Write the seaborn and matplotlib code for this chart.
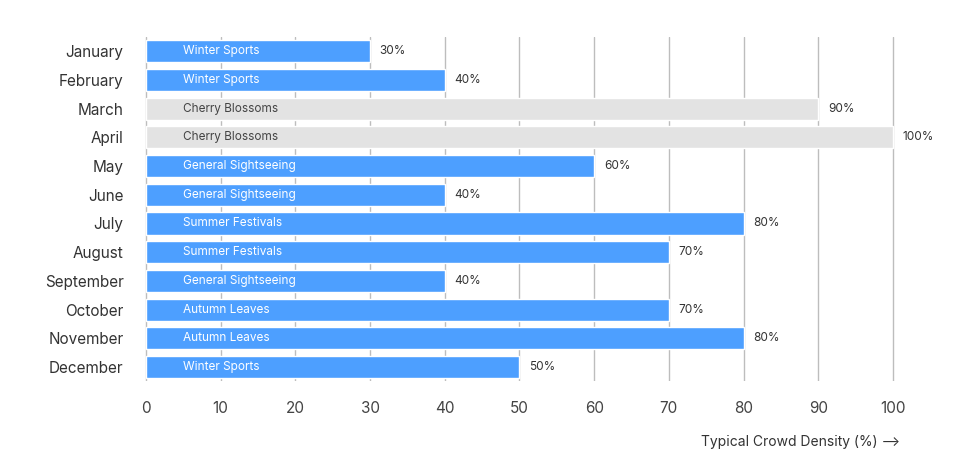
import matplotlib
matplotlib.use("Agg")
import matplotlib.pyplot as plt
import seaborn as sns
import pandas as pd

months = ["January", "February", "March", "April", "May", "June", "July",
          "August", "September", "October", "November", "December"]
density = [30, 40, 90, 100, 60, 40, 80, 70, 40, 70, 80, 50]
reasons = ["Winter Sports", "Winter Sports", "Cherry Blossoms", "Cherry Blossoms",
           "General Sightseeing", "General Sightseeing", "Summer Festivals",
           "Summer Festivals", "General Sightseeing", "Autumn Leaves",
           "Autumn Leaves", "Winter Sports"]

sns.set_style("white")
plt.rcParams['font.family'] = ['Inter', 'DejaVu Sans']

df = pd.DataFrame({"month": months, "density": density, "reason": reasons})
blue, grey = "#4d9fff", "#e3e3e3"
colors = [grey if r == "Cherry Blossoms" else blue for r in reasons]

fig = plt.figure(figsize=(9.57, 4.72), dpi=100)
ax = fig.add_axes([0.1494, 0.192, 0.7915, 0.730])
sns.barplot(data=df, y="month", x="density", hue="month", palette=colors,
            legend=False, width=0.77, saturation=1, ax=ax, zorder=3)

for i, (v, r) in enumerate(zip(density, reasons)):
    ax.text(v + 1.3, i, f"{v}%", va="center", ha="left", fontsize=8.5, color="#333333")
    ax.text(4.9, i, r, va="center", ha="left", fontsize=8.5,
            color="#444444" if r == "Cherry Blossoms" else "white", zorder=4)

ax.set_xlim(-0.4, 101)
ax.set_xticks(range(0, 101, 10))
ax.xaxis.grid(True, color="#bdbdbd", linewidth=1, zorder=0)
ax.set_axisbelow(True)
for s in ax.spines.values():
    s.set_visible(False)
ax.tick_params(axis="x", labelsize=11, colors="#444444", length=0, pad=14)
ax.tick_params(axis="y", labelsize=11, colors="#333333", length=0, pad=14)
ax.set_ylabel("")
ax.set_xlabel("Typical Crowd Density (%) ⟶", fontsize=10, color="#333333",
              loc="right", labelpad=14)

fig.savefig("out.png", dpi=100)
